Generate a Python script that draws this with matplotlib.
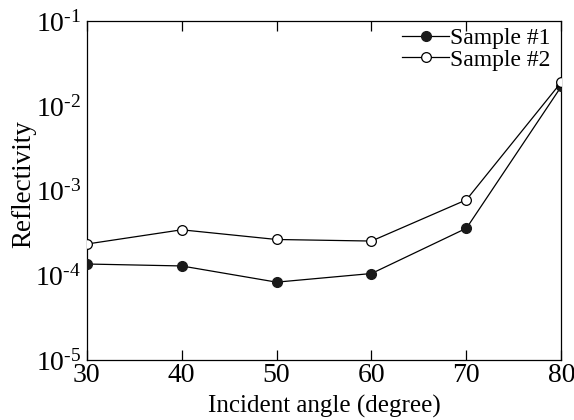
import matplotlib
matplotlib.use("Agg")
import matplotlib.pyplot as plt

plt.rcParams['font.family'] = ['Liberation Serif', 'DejaVu Serif']
plt.rcParams['mathtext.fontset'] = 'custom'
plt.rcParams['mathtext.rm'] = 'Liberation Serif'
plt.rcParams['mathtext.it'] = 'Liberation Serif:italic'
plt.rcParams['mathtext.bf'] = 'Liberation Serif:bold'

# data
angles = [30, 40, 50, 60, 70, 80]
sample1 = [1.36e-4, 1.29e-4, 8.3e-5, 1.05e-4, 3.6e-4, 1.71e-2]
sample2 = [2.34e-4, 3.45e-4, 2.65e-4, 2.54e-4, 7.8e-4, 1.92e-2]
x_ticks = [30, 40, 50, 60, 70, 80]
y_ticks = [1e-5, 1e-4, 1e-3, 1e-2, 1e-1]
y_exps = ['5', '4', '3', '2', '1']
y_labels = ['$\\mathregular{10^{\u2010' + e + '}}$' for e in y_exps]

fig = plt.figure(figsize=(5.74, 4.2), dpi=100)
ax = fig.add_axes([0.151, 0.143, 0.827, 0.806])

ax.plot(angles, sample1, color='black', lw=0.9, marker='o', ms=7,
        mfc='#1a1a1a', mec='#1a1a1a', label='Sample #1', zorder=3)
ax.plot(angles, sample2, color='black', lw=0.9, marker='o', ms=7,
        mfc='white', mec='black', mew=0.9, label='Sample #2', zorder=3)

ax.set_yscale('log')
ax.set_xlim(30, 80)
ax.set_ylim(1e-5, 1e-1)
ax.set_xticks(x_ticks)
ax.set_yticks(y_ticks)
ax.set_yticklabels(y_labels)
ax.minorticks_off()

ax.tick_params(axis='x', direction='in', top=True, length=7, width=0.9,
               labelsize=20, pad=2)
ax.tick_params(axis='y', length=0, labelsize=20, pad=4)
for s in ax.spines.values():
    s.set_linewidth(0.9)

ax.set_xlabel('Incident angle (degree)', fontsize=18, labelpad=5)
ax.set_ylabel('Reflectivity', fontsize=19.5)
ax.yaxis.set_label_coords(-0.106, 0.52)

ax.legend(loc='upper right', frameon=False, fontsize=17, handlelength=2.0,
          handletextpad=0.05, labelspacing=0.0, borderaxespad=0.0,
          bbox_to_anchor=(0.998, 1.01))

fig.savefig('out.png', dpi=100)
